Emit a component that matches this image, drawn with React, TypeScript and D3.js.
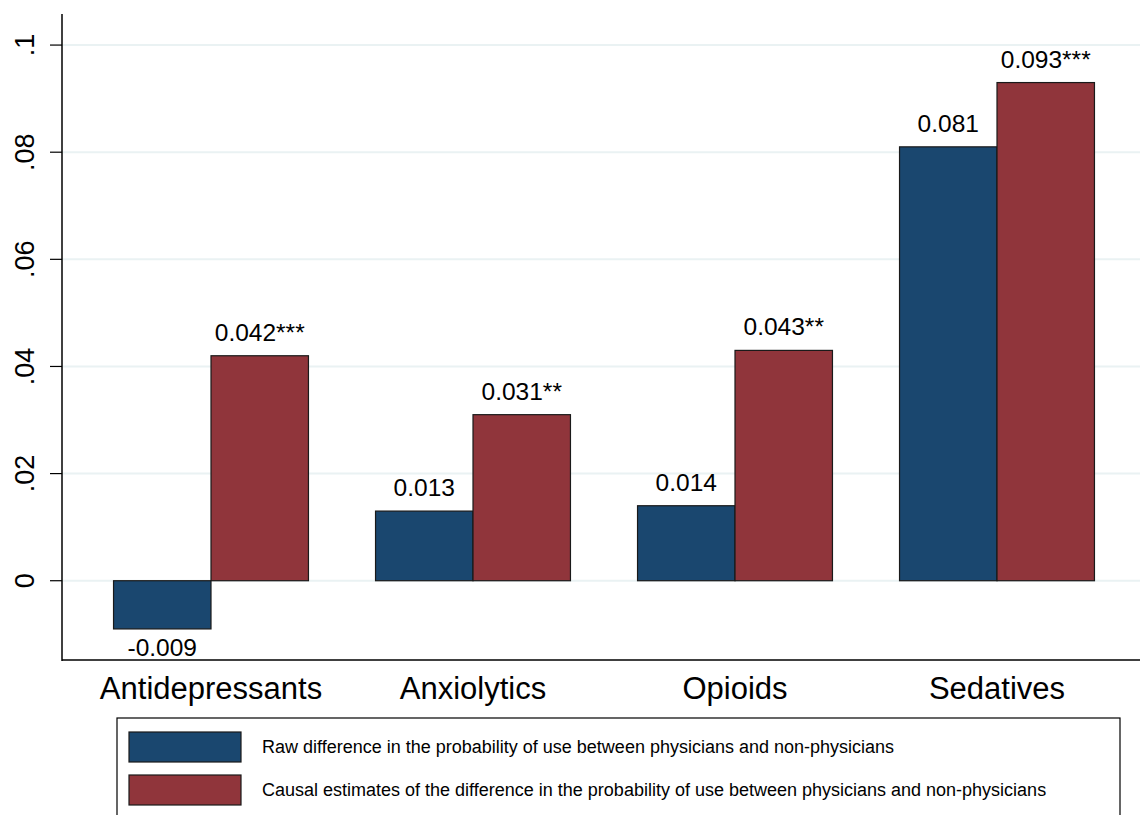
import React from 'react';
import * as d3 from 'd3';

const categories = ['Antidepressants', 'Anxiolytics', 'Opioids', 'Sedatives'];
const seriesKeys = ['raw', 'causal'];
const rawValues = [-0.009, 0.013, 0.014, 0.081];
const causalValues = [0.042, 0.031, 0.043, 0.093];
const rawLabels = ['-0.009', '0.013', '0.014', '0.081'];
const causalLabels = ['0.042***', '0.031**', '0.043**', '0.093***'];
const yTicks = [0, 0.02, 0.04, 0.06, 0.08, 0.1];
const yTickLabels = ['0', '.02', '.04', '.06', '.08', '.1'];
const legendLabels = [
  'Raw difference in the probability of use between physicians and non-physicians',
  'Causal estimates of the difference in the probability of use between physicians and non-physicians',
];

const W = 1140;
const H = 815;
const colors = ['#1a476f', '#90353b'];
const font = 'Arial, "Liberation Sans", sans-serif';

const App: React.FC = () => {
  const left = 62;
  const top = 14;
  const bottom = 660;

  const y = d3.scaleLinear().domain([-0.0148, 0.1058]).range([bottom, top]);
  const x0 = d3.scaleBand<string>()
    .domain(categories)
    .range([80, 1128])
    .paddingInner(0.256)
    .paddingOuter(0.128);
  const x1 = d3.scaleBand<string>().domain(seriesKeys).range([0, x0.bandwidth()]);

  const series = [rawValues, causalValues];
  const labels = [rawLabels, causalLabels];

  return (
    <svg width={W} height={H} style={{ position: 'absolute', left: 0, top: 0, background: '#fff' }}
      fontFamily={font}>
      {/* gridlines */}
      {yTicks.map((t) => (
        <line key={'g' + t} x1={left} x2={W} y1={y(t)} y2={y(t)} stroke="#eaf2f3" strokeWidth={2} />
      ))}

      {/* bars */}
      {categories.map((c, i) => (
        <g key={c} transform={`translate(${x0(c)},0)`}>
          {seriesKeys.map((k, s) => {
            const v = series[s][i];
            const y0 = y(Math.max(0, v));
            const h = Math.abs(y(v) - y(0));
            const bx = x1(k)!;
            return (
              <g key={k}>
                <rect x={bx} y={y0} width={x1.bandwidth()} height={h}
                  fill={colors[s]} stroke="#1a1a1a" strokeWidth={1.2} />
                <text x={bx + x1.bandwidth() / 2}
                  y={v >= 0 ? y(v) - 15 : y(v) + 27}
                  textAnchor="middle" fontSize={24.5} fill="#000">
                  {labels[s][i]}
                </text>
              </g>
            );
          })}
          <text x={x0.bandwidth() / 2} y={699} textAnchor="middle" fontSize={31} fill="#000">
            {c}
          </text>
        </g>
      ))}

      {/* axes */}
      <line x1={left} x2={left} y1={top} y2={bottom + 1} stroke="#000" strokeWidth={1.5} />
      <line x1={left} x2={W} y1={bottom} y2={bottom} stroke="#000" strokeWidth={1.5} />
      {yTicks.map((t, i) => (
        <g key={'t' + t}>
          <line x1={50} x2={left} y1={y(t)} y2={y(t)} stroke="#000" strokeWidth={1.2} />
          <text transform={`translate(34,${y(t)}) rotate(-90)`} textAnchor="middle"
            fontSize={27} fill="#000">
            {yTickLabels[i]}
          </text>
        </g>
      ))}

      {/* legend */}
      <rect x={117} y={718} width={1003} height={110} fill="#fff" stroke="#000" strokeWidth={1.2} />
      {legendLabels.map((l, i) => (
        <g key={l} transform={`translate(0,${i * 43})`}>
          <rect x={129} y={732} width={112} height={30} fill={colors[i]} stroke="#1a1a1a" strokeWidth={1.2} />
          <text x={262} y={753} fontSize={18} fill="#000">{l}</text>
        </g>
      ))}
    </svg>
  );
};

export default App;
